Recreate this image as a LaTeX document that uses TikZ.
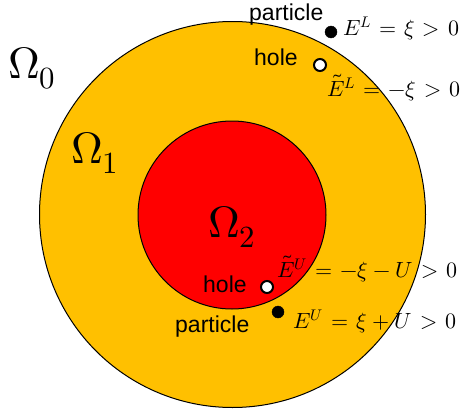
\documentclass[tikz,border=0pt]{standalone}
\usepackage{fontspec}
\usepackage{unicode-math}
\setmathfont{Latin Modern Math}
\newfontfamily\labelfont{Liberation Sans}
\definecolor{gold}{HTML}{FFC000}
\definecolor{redfill}{HTML}{FF0000}
\thickmuskip=6.5mu
\medmuskip=4.5mu
\tikzset{
  word/.style={font=\labelfont\fontsize{23}{26}\selectfont, inner sep=0pt, anchor=base west},
  eqn/.style={font=\fontsize{22}{26}\selectfont, inner sep=0pt, anchor=base west},
  region/.style={font=\fontsize{44}{50}\selectfont, inner sep=0pt, anchor=base west},
  fulldot/.style={circle, fill=black, draw=black, minimum size=12pt, inner sep=0pt},
  emptydot/.style={circle, fill=white, draw=black, line width=2pt, minimum size=12pt, inner sep=0pt},
}
\begin{document}
\begin{tikzpicture}[x=1pt, y=-1pt]
\useasboundingbox (0,0) rectangle (461,415);
\filldraw[fill=gold, draw=black, line width=1pt] (232.5,214.5) circle (193);
\filldraw[fill=redfill, draw=black, line width=1pt] (232,215) circle (94);

\node[region] (o0) at (8,78) {$\Omega_0$};
\node[region] (o1) at (71,163) {$\Omega_1$};
\node[region] (o2) at (208,237) {$\Omega_2$};

\node[word] (p1) at (249,20) {particle};
\node[fulldot] (d1) at (331,32) {};
\node[eqn] (e1) at (343,35) {$E^L=\xi>0$};
\node[word] (h1) at (254,65) {hole};
\node[emptydot] (d2) at (320,65) {};
\node[eqn] (e2) at (327,96) {$\tilde{E}^L=-\xi>0$};

\node[eqn] (e3) at (277,277) {$\tilde{E}^U=-\xi-U>0$};
\node[word] (h2) at (203,292) {hole};
\node[emptydot] (d3) at (267,287) {};
\node[fulldot] (d4) at (278,312) {};
\node[word] (p2) at (175,332) {particle};
\node[eqn] (e4) at (293,328) {$E^U=\xi+U>0$};
\end{tikzpicture}
\end{document}
